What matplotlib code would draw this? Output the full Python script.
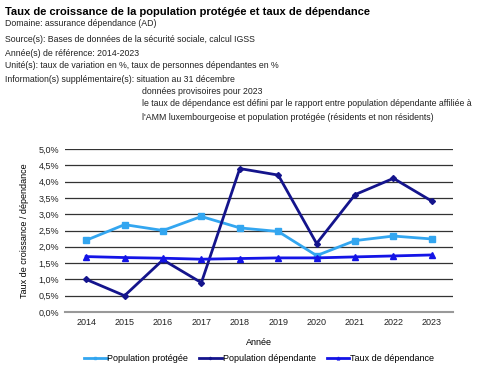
import matplotlib
matplotlib.use("Agg")
import matplotlib.pyplot as plt
from matplotlib.ticker import FuncFormatter

years = [2014, 2015, 2016, 2017, 2018, 2019, 2020, 2021, 2022, 2023]
pop_protegee = [2.20, 2.68, 2.50, 2.93, 2.58, 2.47, 1.73, 2.19, 2.33, 2.24]
pop_dependante = [1.00, 0.50, 1.60, 0.90, 4.40, 4.20, 2.10, 3.60, 4.10, 3.40]
taux_dependance = [1.70, 1.67, 1.65, 1.62, 1.64, 1.66, 1.66, 1.69, 1.72, 1.75]

title = "Taux de croissance de la population protégée et taux de dépendance"
info_lines = [
    "Domaine: assurance dépendance (AD)",
    "Source(s): Bases de données de la sécurité sociale, calcul IGSS",
    "Année(s) de référence: 2014-2023",
    "Unité(s): taux de variation en %, taux de personnes dépendantes en %",
    "Information(s) supplémentaire(s): situation au 31 décembre",
]
extra_lines = [
    "données provisoires pour 2023",
    "le taux de dépendance est défini par le rapport entre population dépendante affiliée à",
    "l'AMM luxembourgeoise et population protégée (résidents et non résidents)",
]

plt.rcParams["font.family"] = ["Liberation Sans", "DejaVu Sans"]

W, H = 480, 375
fig = plt.figure(figsize=(W / 100, H / 100), dpi=100)
ax = fig.add_axes([65 / W, 1 - 312 / H, (453 - 65) / W, (312 - 149) / H])

ax.plot(years, pop_protegee, color="#33a6f0", lw=2, marker="s", ms=4.5,
        label="Population protégée")
ax.plot(years, pop_dependante, color="#14148c", lw=2, marker="D", ms=3,
        label="Population dépendante")
ax.plot(years, taux_dependance, color="#1414e6", lw=2, marker="^", ms=5,
        label="Taux de dépendance")

ax.set_ylim(0, 5)
ax.set_yticks([i * 0.5 for i in range(11)])
ax.yaxis.set_major_formatter(FuncFormatter(lambda v, p: f"{v:.1f}%".replace(".", ",")))
ax.set_xlim(2013.45, 2023.55)
ax.set_xticks(years)
ax.grid(axis="y", color="#333333", lw=0.9)
ax.set_axisbelow(True)
for s in ["top", "right", "left"]:
    ax.spines[s].set_visible(False)
ax.spines["bottom"].set_color("#999999")
ax.spines["bottom"].set_linewidth(1.5)
ax.tick_params(length=0, labelsize=6.5, colors="#222222", pad=4)
ax.set_xlabel("Année", fontsize=6.5, labelpad=8)
ax.set_ylabel("Taux de croissance / dépendance", fontsize=6.5, labelpad=7)

ax.legend(loc="upper center", bbox_to_anchor=(0.5, -0.21), ncol=3, frameon=False,
          fontsize=6.5, handlelength=2.5, handletextpad=0.1, columnspacing=1.2,
          markerscale=0.4)

fig.text(5 / W, 1 - 12 / H, title, fontsize=8, fontweight="bold", va="center")
ys = [24, 39, 53, 66, 80]
for y, t in zip(ys, info_lines):
    fig.text(5 / W, 1 - y / H, t, fontsize=6.3, va="center", color="#222222")
for y, t in zip([91, 104, 117], extra_lines):
    fig.text(142 / W, 1 - y / H, t, fontsize=6.3, va="center", color="#222222")

fig.savefig("out.png", dpi=100)
